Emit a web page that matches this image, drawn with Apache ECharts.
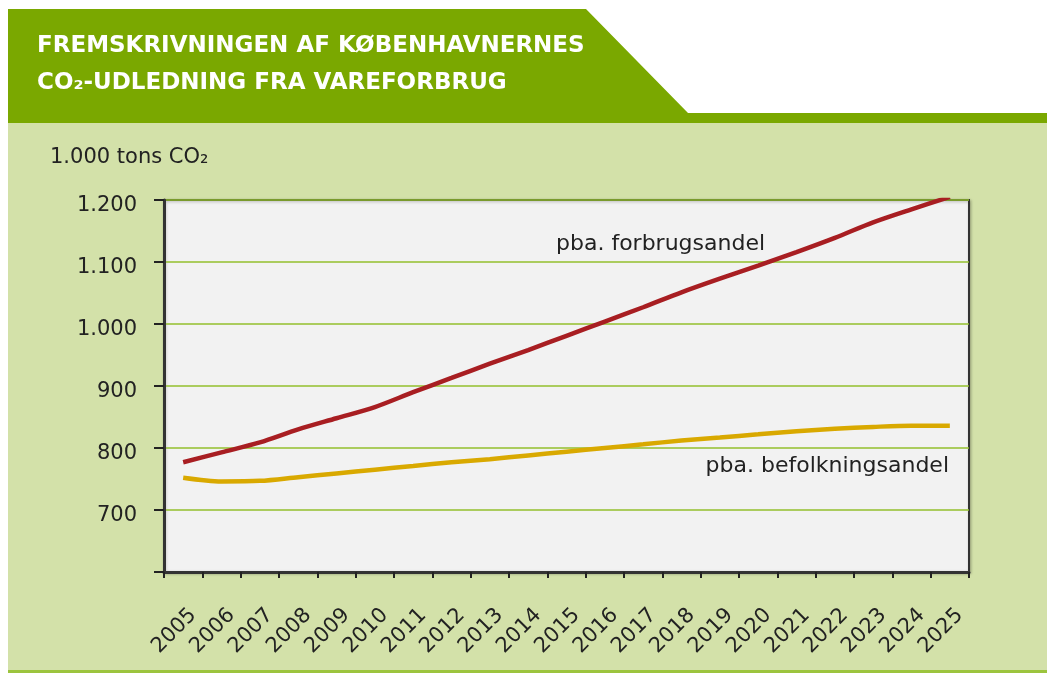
<!DOCTYPE html>
<html>
<head>
<meta charset="utf-8">
<script src="https://cdn.jsdelivr.net/npm/echarts@6/dist/echarts.min.js"></script>
<style>
html,body{margin:0;padding:0;background:#fff;}
#c{width:1047px;height:673px;}
</style>
</head>
<body>
<div id="c"></div>
<script>
const years = ['2005','2006','2007','2008','2009','2010','2011','2012','2013','2014','2015','2016','2017','2018','2019','2020','2021','2022','2023','2024','2025'];
const forbrugsandel = [777,793,809,830,848,866,890,913,936,958,981,1004,1027,1051,1073,1094,1116,1139,1164,1185,1205];
const befolkningsandel = [752,746,747,753,759,765,771,777,782,788,794,800,806,812,817,822,827,831,834,836,836];
const yTicks = {min:600, max:1200, interval:100};
const titleLines = ['FREMSKRIVNINGEN AF KØBENHAVNERNES','CO₂-UDLEDNING FRA VAREFORBRUG'];
const unitLabel = '1.000 tons CO₂';
const seriesNames = ['pba. forbrugsandel','pba. befolkningsandel'];

const FONT = '"DejaVu Sans", sans-serif';
const chart = echarts.init(document.getElementById('c'), null, {renderer:'canvas'});

function fmt(v){
  if (v === yTicks.min) return '';
  const s = String(v);
  return s.length > 3 ? s.slice(0, s.length-3) + '.' + s.slice(-3) : s;
}

const option = {
  backgroundColor: '#ffffff',
  animation: false,
  graphic: [
    {type:'polygon', z:-100, shape:{points:[[8,9],[586,9],[688,113],[1047,113],[1047,123],[8,123]]}, style:{fill:'#7aa800'}},
    {type:'rect', z:-100, shape:{x:8,y:123,width:1039,height:547}, style:{fill:'#d3e1a9'}},
    {type:'rect', z:-100, shape:{x:8,y:670,width:1039,height:3}, style:{fill:'#9cc43e'}},
    {type:'text', z:100, style:{text:titleLines[0], x:37, y:46, font:'bold 23px '+FONT, fill:'#ffffff', verticalAlign:'middle'}},
    {type:'text', z:100, style:{text:titleLines[1], x:37, y:83, font:'bold 23px '+FONT, fill:'#ffffff', verticalAlign:'middle'}},
    {type:'text', z:100, style:{text:unitLabel, x:50, y:158, font:'21px '+FONT, fill:'#222222', verticalAlign:'middle'}},
    {type:'text', z:100, style:{text:seriesNames[0], x:556, y:244, font:'22px '+FONT, fill:'#222222', verticalAlign:'middle'}},
    {type:'text', z:100, style:{text:seriesNames[1], x:949, y:466, font:'22px '+FONT, fill:'#222222', verticalAlign:'middle', align:'right'}}
  ],
  grid: [
    {left:164, right:78, top:200, height:372, show:true, backgroundColor:'#f2f2f2', borderColor:'#333333', borderWidth:2, containLabel:false,
     shadowColor:'rgba(0,0,0,0.25)', shadowBlur:3, shadowOffsetX:1, shadowOffsetY:1},
    {left:174, right:68, top:200, height:372, show:false, containLabel:false}
  ],
  xAxis: [
    {type:'category', gridIndex:0, data:years, boundaryGap:true,
     axisLine:{show:true, lineStyle:{color:'#333333', width:3}},
     axisTick:{show:true, length:6, lineStyle:{color:'#222222', width:2}},
     axisLabel:{show:false},
     splitLine:{show:false}},
    {type:'category', gridIndex:1, data:years, boundaryGap:true,
     axisLine:{show:false}, axisTick:{show:false}, splitLine:{show:false},
     axisLabel:{show:true, interval:0, rotate:45, margin:40, color:'#222222', fontSize:21, fontFamily:FONT}}
  ],
  yAxis: [
    {type:'value', gridIndex:0, min:yTicks.min, max:yTicks.max, interval:yTicks.interval,
     axisLine:{show:true, lineStyle:{color:'#333333', width:3}},
     axisTick:{show:true, length:10, lineStyle:{color:'#222222', width:2}},
     axisLabel:{show:true, margin:27, color:'#222222', fontSize:21, fontFamily:FONT, formatter:fmt, verticalAlign:'top', lineHeight:12},
     splitLine:{show:true, lineStyle:{color:'#93bf2c', width:1.5}}},
    {type:'value', gridIndex:1, min:yTicks.min, max:yTicks.max, show:false}
  ],
  series: [
    {name:seriesNames[0], type:'line', xAxisIndex:0, yAxisIndex:0, data:forbrugsandel, smooth:0.3, symbol:'none',
     lineStyle:{color:'#a81e22', width:4.5}, z:5},
    {name:seriesNames[1], type:'line', xAxisIndex:0, yAxisIndex:0, data:befolkningsandel, smooth:0.3, symbol:'none',
     lineStyle:{color:'#d9a900', width:4.5}, z:4}
  ]
};
chart.setOption(option);
</script>
</body>
</html>
